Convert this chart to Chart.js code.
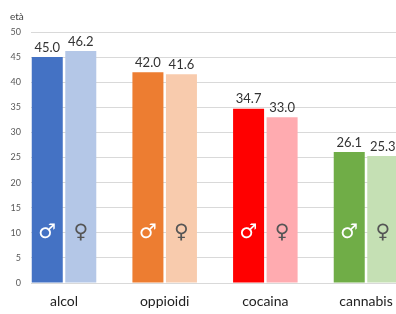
<!DOCTYPE html>
<html>
<head>
<meta charset="utf-8">
<script src="https://cdn.jsdelivr.net/npm/chart.js@4.4.1/dist/chart.umd.min.js"></script>
<style>
  html, body { margin: 0; padding: 0; background: #fff; overflow: hidden; }
  #wrap { width: 396px; height: 314px; }
</style>
</head>
<body>
<div id="wrap"><canvas id="chart" width="396" height="314"></canvas></div>
<script>
const categories = ['alcol', 'oppioidi', 'cocaina', 'cannabis'];
const maschi = [45.0, 42.0, 34.7, 26.1];
const femmine = [46.2, 41.6, 33.0, 25.3];
const yTicks = [0, 5, 10, 15, 20, 25, 30, 35, 40, 45, 50];

const coloriMaschi = ['#4472C4', '#ED7D31', '#FF0000', '#70AD47'];
const coloriFemmine = ['#B4C7E7', '#F8CBAD', '#FFABB0', '#C5E0B4'];

// labels above bars and gender symbols inside
const barLabels = {
    id: 'barLabels',
    afterDatasetsDraw(chart) {
        const ctx = chart.ctx;
        const yScale = chart.scales.y;
        chart.data.datasets.forEach((ds, i) => {
            const meta = chart.getDatasetMeta(i);
            meta.data.forEach((bar, j) => {
                ctx.save();
                ctx.textAlign = 'center';
                ctx.textBaseline = 'bottom';
                ctx.fillStyle = '#333';
                ctx.font = '13px Lato';
                ctx.fillText(ds.data[j].y.toFixed(1), bar.x, bar.y - 3);
                ctx.textBaseline = 'middle';
                ctx.font = 'bold 20px "DejaVu Sans"';
                ctx.fillStyle = i === 0 ? '#fff' : '#555';
                ctx.fillText(i === 0 ? '\u2642' : '\u2640', bar.x, yScale.getPixelForValue(10));
                ctx.restore();
            });
        });
    }
};

new Chart(document.getElementById('chart'), {
    type: 'bar',
    data: {
        datasets: [{
            label: 'maschi',
            data: maschi.map((v, i) => ({ x: i, y: v })),
            backgroundColor: coloriMaschi,
            categoryPercentage: 0.666,
            barPercentage: 0.925
        }, {
            label: 'femmine',
            data: femmine.map((v, i) => ({ x: i, y: v })),
            backgroundColor: coloriFemmine,
            categoryPercentage: 0.666,
            barPercentage: 0.925
        }]
    },
    options: {
        responsive: false,
        animation: false,
        layout: { padding: { left: 10, right: 0, top: 0, bottom: 4 } },
        plugins: {
            legend: { display: false },
            tooltip: { enabled: false },
            title: {
                display: true,
                text: 'età',
                align: 'start',
                color: '#404040',
                font: { family: 'Lato', size: 10, weight: 'normal' },
                padding: { top: 11, bottom: 9 }
            }
        },
        scales: {
            x: {
                type: 'linear',
                min: -0.328,
                max: 3.298,
                offset: false,
                bounds: 'data',
                grid: { display: false },
                border: { display: false },
                afterBuildTicks: s => { s.ticks = categories.map((c, i) => ({ value: i })); },
                afterFit: s => { s.paddingLeft = 0; s.paddingRight = 0; s.height = 27; },
                ticks: {
                    autoSkip: false,
                    maxRotation: 0,
                    padding: 2,
                    color: '#222',
                    font: { family: 'Lato', size: 14 },
                    callback: v => categories[v]
                }
            },
            y: {
                min: 0,
                max: 50,
                afterBuildTicks: s => { s.ticks = yTicks.map(v => ({ value: v })); },
                afterFit: s => { s.width = 21; },
                grid: { color: '#D9D9D9', drawTicks: false },
                border: { display: false },
                ticks: {
                    padding: 10,
                    color: '#595959',
                    font: { family: 'Lato', size: 9 }
                }
            }
        }
    },
    plugins: [barLabels]
});
</script>
</body>
</html>
